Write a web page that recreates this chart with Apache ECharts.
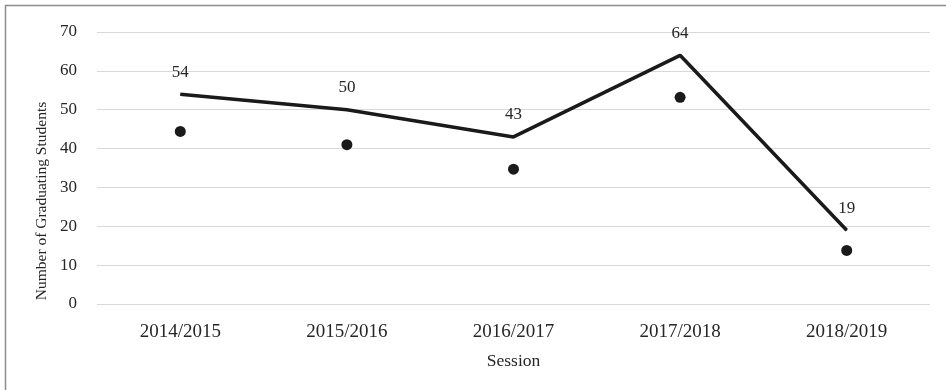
<!DOCTYPE html>
<html>
<head>
<meta charset="utf-8">
<script src="https://cdn.jsdelivr.net/npm/echarts@6/dist/echarts.min.js"></script>
<style>
  html, body { margin: 0; padding: 0; background: #fff; }
  #chart { width: 946px; height: 390px; }
</style>
</head>
<body>
<div id="chart"></div>
<script>
// Academic sessions on the x axis
const sessions = ['2014/2015', '2015/2016', '2016/2017', '2017/2018', '2018/2019'];
// Total graduating students per session (line with value labels)
const graduates = [54, 50, 43, 64, 19];
// Second measure per session, drawn as dots
const dotValues = [44.4, 41, 34.7, 53.2, 13.8];

const serif = '"Liberation Serif", "DejaVu Serif", serif';
const textColor = '#262626';

const chart = echarts.init(document.getElementById('chart'), null, { renderer: 'canvas' });
chart.setOption({
  animation: false,
  backgroundColor: '#ffffff',
  textStyle: { fontFamily: serif },
  graphic: [
    {
      // outer frame
      type: 'rect',
      shape: { x: 5.5, y: 5.5, width: 1000, height: 1000 },
      style: { fill: 'none', stroke: '#8c8c8c', lineWidth: 1.5 },
      silent: true,
      z: -1
    },
    {
      // vertical axis title
      type: 'text',
      x: 42,
      y: 201,
      rotation: Math.PI / 2,
      style: {
        text: 'Number of Graduating Students',
        fontFamily: serif,
        fontSize: 15.5,
        fill: textColor,
        textAlign: 'center',
        textVerticalAlign: 'middle'
      },
      silent: true
    }
  ],
  grid: { left: 97, right: 16, top: 32, bottom: 86, containLabel: false, outerBoundsMode: 'none' },
  xAxis: {
    type: 'category',
    data: sessions,
    boundaryGap: true,
    name: 'Session',
    nameLocation: 'middle',
    nameGap: 48,
    nameTextStyle: { fontFamily: serif, fontSize: 17.5, color: textColor },
    axisLine: { show: false },
    axisTick: { show: false },
    axisLabel: { fontFamily: serif, fontSize: 19, color: textColor, margin: 19 }
  },
  yAxis: {
    type: 'value',
    min: 0,
    max: 70,
    interval: 10,
    axisLine: { show: false },
    axisTick: { show: false },
    axisLabel: { fontFamily: serif, fontSize: 17, color: textColor, margin: 20 },
    splitLine: { lineStyle: { color: '#d9d9d9', width: 1.2 } }
  },
  series: [
    {
      type: 'line',
      data: graduates,
      symbol: 'circle',
      symbolSize: 1,
      itemStyle: { color: '#1a1a1a' },
      lineStyle: { color: '#1a1a1a', width: 3.5 },
      label: {
        show: true,
        position: 'top',
        distance: 13,
        fontFamily: serif,
        fontSize: 17,
        color: textColor
      },
      z: 3
    },
    {
      type: 'scatter',
      data: dotValues,
      symbol: 'circle',
      symbolSize: 11,
      itemStyle: { color: '#1a1a1a', opacity: 1 },
      z: 2
    }
  ]
});
</script>
</body>
</html>
